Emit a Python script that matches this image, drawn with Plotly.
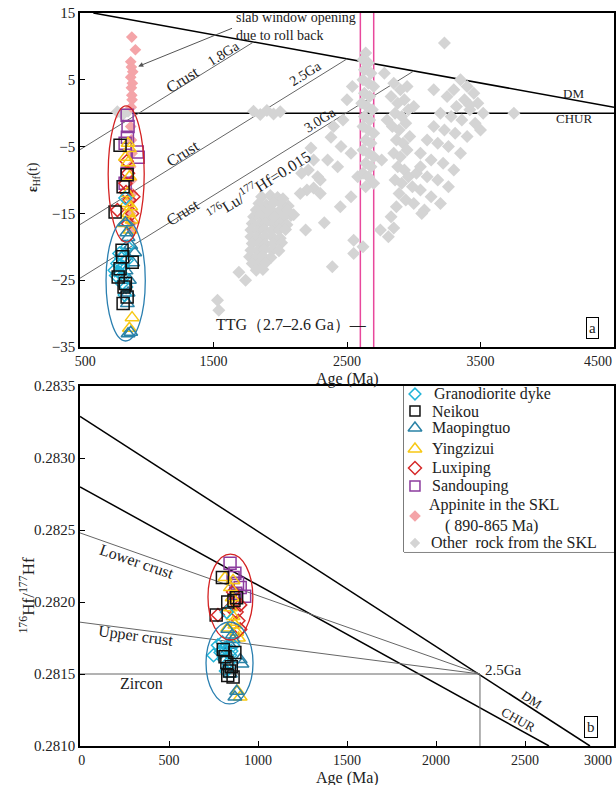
import plotly.graph_objects as go

# ---------------- DATA ----------------
# Top panel (a): Age (Ma) vs eHf(t)
grano_age_a = [840, 855, 810, 790, 770, 800, 820, 780, 830, 845, 835, 815, 795, 760, 805, 850]
grano_eps_a = [-12.7, -20, -21.7, -23.8, -24.3, -22.8, -23, -22.5, -24.5, -26, -27.2, -25.5, -21, -23.5, -24, -22]
neikou_age_a = [800, 853, 823, 763, 815, 891, 800, 786, 830, 853, 823, 840, 820]
neikou_eps_a = [-4.8, -9.2, -11, -14.8, -20.5, -22.3, -23.3, -24.5, -26, -27.5, -28.5, -25.5, -21.5]
maop_age_a = [840, 850, 860, 880, 910, 895, 845, 860, 855, 880, 860, 870, 835]
maop_eps_a = [-16.4, -17.9, -18.6, -19.8, -20.9, -22.4, -23.6, -26.9, -28.5, -32.8, -33, -25, -21]
ying_age_a = [860, 870, 840, 860, 870, 850, 865, 890, 830, 880, 890, 870, 855, 875]
ying_eps_a = [-4.5, -5.3, -6.6, -7.4, -9.5, -13.5, -15, -16, -16.5, -14, -30.6, -32.2, -12, -17.5]
luxi_age_a = [850, 860, 840, 780, 890, 900, 870, 860, 845]
luxi_eps_a = [-7.2, -9, -10.5, -14.5, -15, -12.5, -13, -16.5, -11.8]
sand_age_a = [853, 860, 855, 838, 929, 936, 853, 838]
sand_eps_a = [-0.3, -2.0, -3.6, -4.5, -5.8, -6.6, -9, -10.5]
appin_age_a = [888, 915, 880, 885, 895, 880, 892, 885, 888, 890, 884, 880, 885, 890, 880, 888, 892, 884, 878, 886, 890]
appin_eps_a = [11.4, 9.5, 7.7, 6.9, 6.2, 5.4, 4.5, 3.8, 2.7, 2.0, 0.9, -2, -4, -6, -8, -10, -12, -13, -15, -16.5, -17.5]
other_age = [780, 820, 860,
             1800, 1850, 1900, 1950, 2000,
             1860, 1925, 1980, 2020, 1840, 1895, 1950, 2010, 2060, 1820, 1870, 1930, 1990, 2050,
             1800, 1850, 1905, 1960, 2020, 2080, 1790, 1840, 1890, 1950, 2000, 2050,
             1780, 1830, 1880, 1935, 1990, 2040, 1780, 1830, 1885, 1940, 2000,
             1790, 1845, 1890, 1950, 2010, 1780, 1830, 1880, 1940, 1990,
             1770, 1820, 1870, 1930, 1790, 1840, 1890, 1820, 1870,
             1690, 1740, 1530, 1540, 2100, 2190, 2330,
             2230, 2250, 2210, 2280, 2250, 2300, 2380, 2455, 2355, 2430, 2530, 2530, 2580,
             2160, 2200, 2300, 2470, 2500, 2540, 2400, 2150,
             2640, 2620, 2660, 2630, 2680, 2620, 2660, 2700, 2630, 2670, 2610, 2650, 2690, 2630,
             2670, 2620, 2660, 2700, 2640, 2680, 2620, 2660, 2700, 2640, 2680, 2620, 2660, 2700, 2640,
             2850, 2900, 2950, 2830, 2880, 2930, 2860, 2910, 2960, 2840, 2890, 2940, 2870, 2920,
             2970, 2850, 2900, 2950, 2880, 2930, 2860, 2910, 2960, 2890, 2940, 2870,
             3350, 3400, 3300, 3450, 3250, 3380, 3480, 3320, 3420, 3520, 3200, 3280, 3360, 3460,
             3150, 3230, 3310, 3400, 3100, 3180, 3260, 3350, 3050, 3130, 3220, 3300, 3020, 3100,
             3180, 3260, 3050, 3130, 3200, 3000, 3080, 3230, 3750,
             2550, 2550, 2620, 2390, 2830, 2750, 2810, 2850, 2450,
             2780, 2800, 3000, 3050, 3150, 3420, 3500, 2760, 2990, 3060]
other_eps = [0.2, -0.2, 0.3,
             0.3, -0.2, 0.4, -0.1, 0.2,
             -12.5, -12.3, -12.6, -12.8, -13.5, -13.7, -13.4, -13.6, -13.9, -14.5, -14.6, -14.4, -14.7, -14.5,
             -15.5, -15.4, -15.7, -15.5, -15.6, -15.3, -16.5, -16.6, -16.4, -16.6, -16.5, -16.7,
             -17.5, -17.6, -17.4, -17.6, -17.5, -17.4, -18.5, -18.6, -18.4, -18.5, -18.7,
             -19.5, -19.4, -19.6, -19.5, -19.4, -20.5, -20.6, -20.4, -20.5, -20.6,
             -21.5, -21.6, -21.4, -21.6, -22.5, -22.6, -22.4, -23.5, -23.4,
             -23.8, -25, -28, -29.5, -15.2, -17.5, -16.4,
             -5.2, -7, -8.5, -9.5, -11.2, -12, -3.6, -5, -7, -8, -6, -12.5, -9.5,
             -9, -11.5, -10, -1, 2, 4, -2, -12,
             9, 8, 7.5, 6.5, 6, 5, 4.5, 4, 3, 2.5, 1.5, 1, 0.5, -0.5,
             -1, -2, -2.5, -3, -4, -4.5, -5.5, -6, -6.5, -7.5, -8, -9, -9.5, -10.5, -11,
             4.5, 3.5, 4, 2.5, 1.5, 2, 0, -0.5, 0.5, -2, -2.5, -1.5, -4, -4.5,
             -3.5, -6, -6.5, -5.5, -8, -8.5, -10, -10.5, -9.5, -12, -13, -14,
             5, 4, 3.5, 3, 2.5, 2, 1.5, 1, 0.5, 0, 0, -0.5, -1, -1.5,
             -2, -2.5, -3, -3.5, -4, -4.5, -5, -6, -6, -7, -7.5, -8.5, -9, -9.5,
             -10, -11, -11.5, -12.5, -13.5, -13.5, -14.5, 10.5, 0,
             -19, -21, -20, -23, -15.5, -17.5, -18.5, -17.2, -14,
             6, -1, 1, -8, 3.5, 1.2, -2.5, -7, -11, -15]

# reference curves, panel a
dm_a_age = [600, 4500]
dm_a_eps = [15, 0.9]
chur_a_age = [500, 4500]
chur_a_eps = [0, 0]
crust18_age = [500, 1800]
crust18_eps = [-5.46, 10.66]
crust25_age = [500, 2500]
crust25_eps = [-16.67, 8.13]
crust30_age = [500, 3000]
crust30_eps = [-24.7, 6.32]
ttg_ages = [2600, 2700]

# Bottom panel (b): Age (Ma) vs 176Hf/177Hf
grano_age_b = [825, 790, 815, 843, 830, 820, 750, 800, 835, 810, 850, 860, 800, 775]
grano_hf_b = [0.28193, 0.28165, 0.28168, 0.28163, 0.28154, 0.28152, 0.28163, 0.28167, 0.28158, 0.28160, 0.28166, 0.28170, 0.28172, 0.28170]
neikou_age_b = [800, 830, 765, 865, 880, 805, 870, 825, 830, 860, 815, 850, 840]
neikou_hf_b = [0.28217, 0.28200, 0.28191, 0.28201, 0.28203, 0.28167, 0.28165, 0.28158, 0.28149, 0.28148, 0.28162, 0.28155, 0.28152]
maop_age_b = [830, 855, 843, 900, 910, 880, 870, 860, 820, 845]
maop_hf_b = [0.28181, 0.28177, 0.28170, 0.28160, 0.28157, 0.28138, 0.28134, 0.28174, 0.28165, 0.28150]
ying_age_b = [815, 845, 855, 860, 860, 860, 830, 880, 890, 870, 885, 900, 845]
ying_hf_b = [0.28217, 0.28210, 0.28203, 0.28215, 0.28190, 0.28186, 0.28182, 0.28179, 0.28175, 0.28184, 0.28138, 0.28134, 0.28196]
luxi_age_b = [775, 880, 900, 860, 900, 870, 845, 890]
luxi_hf_b = [0.28191, 0.28193, 0.28198, 0.28207, 0.28181, 0.28200, 0.28196, 0.28187]
sand_age_b = [843, 870, 885, 900, 925, 860, 875]
sand_hf_b = [0.28227, 0.28220, 0.28213, 0.28210, 0.28204, 0.28217, 0.28206]

# reference curves, panel b
dm_b_age = [0, 2865]
dm_b_hf = [0.28329, 0.2810]
chur_b_age = [0, 2635]
chur_b_hf = [0.2828, 0.2810]
lower_age = [0, 2247]
lower_hf = [0.28248, 0.28150]
upper_age = [0, 2247]
upper_hf = [0.28186, 0.28150]
zircon_age = [0, 2247]
zircon_hf = [0.28150, 0.28150]
drop_age = [2247, 2247]
drop_hf = [0.28150, 0.2810]

# tick values / labels (the last label of each x axis is set flush with the frame)
NB = "\u00a0"
xa_ticks = [500, 1500, 2500, 3500, 4500]
xa_labels = [NB * 3 + "500", "1500", "2500", "3500", ""]
xa_last = "4500"
ya_ticks = [15, 5, -5, -15, -25, -35]
xb_ticks = [0, 500, 1000, 1500, 2000, 2500, 3000]
xb_labels = [NB + "0", "500", "1000", "1500", "2000", "2500", ""]
xb_last = "3000"
yb_ticks = [0.2810, 0.2815, 0.2820, 0.2825, 0.2830, 0.2835]

# legend entries
legend_names = ["Granodiorite dyke", "Neikou", "Maopingtuo", "Yingzizui", "Luxiping",
                "Sandouping", "Appinite in the SKL<br>" + NB * 4 + "( 890-865 Ma)",
                "Other" + NB + " rock from the SKL"]

# ---------------- STYLE ----------------
FONT = "Liberation Serif"
C_GRANO = "#22b4d8"
C_NEIKOU = "#111111"
C_MAOP = "#2a82a6"
C_YING = "#f7c814"
C_LUXI = "#d62a2a"
C_SAND = "#8c3c9e"
C_PINK = "#f4a4a8"
C_GRAY = "#d4d4d4"
LINE_GRAY = "#666666"

legend_symbols = ["diamond-open", "square-open", "triangle-up-open", "triangle-up-open",
                  "diamond-open", "square-open", "diamond", "diamond"]
legend_colors = [C_GRANO, C_NEIKOU, C_MAOP, C_YING, C_LUXI, C_SAND, C_PINK, C_GRAY]
legend_sizes = [9, 10, 12, 12, 10, 10, 9, 8]
legend_rows = [8, 25, 42, 63, 82, 100, 130, 157]   # row centres inside the legend box (px)

fig = go.Figure()

def line(x, y, xa, ya, color="black", width=1.5):
    fig.add_trace(go.Scatter(x=x, y=y, mode="lines", xaxis=xa, yaxis=ya,
                             line=dict(color=color, width=width),
                             showlegend=False, hoverinfo="skip"))

# panel a lines
line(dm_a_age, dm_a_eps, "x", "y")
line(chur_a_age, chur_a_eps, "x", "y")
line(crust18_age, crust18_eps, "x", "y", LINE_GRAY, 1)
line(crust25_age, crust25_eps, "x", "y", LINE_GRAY, 1)
line(crust30_age, crust30_eps, "x", "y", LINE_GRAY, 1)
for t in ttg_ages:
    line([t, t], [-35, 15], "x", "y", "#e8489c", 1.5)

# panel b lines
line(dm_b_age, dm_b_hf, "x2", "y2")
line(chur_b_age, chur_b_hf, "x2", "y2")
line(lower_age, lower_hf, "x2", "y2", LINE_GRAY, 1)
line(upper_age, upper_hf, "x2", "y2", LINE_GRAY, 1)
line(zircon_age, zircon_hf, "x2", "y2", LINE_GRAY, 1)
line(drop_age, drop_hf, "x2", "y2", LINE_GRAY, 1)

def pts(x, y, xa, ya, name, symbol, color, size, open_=True):
    if open_:
        marker = dict(symbol=symbol, size=size, color=color, line=dict(color=color, width=1.5))
    else:
        marker = dict(symbol=symbol, size=size, color=color, line=dict(width=0))
    fig.add_trace(go.Scatter(x=x, y=y, mode="markers", xaxis=xa, yaxis=ya, name=name,
                             marker=marker, showlegend=False))

# panel a points (draw order)
pts(other_age, other_eps, "x", "y", "Other rock from the SKL", "diamond", C_GRAY, 10, False)
pts(appin_age_a, appin_eps_a, "x", "y", "Appinite in the SKL (890-865 Ma)", "diamond", C_PINK, 9, False)
pts(sand_age_a, sand_eps_a, "x", "y", "Sandouping", "square-open", C_SAND, 12)
pts(luxi_age_a, luxi_eps_a, "x", "y", "Luxiping", "diamond-open", C_LUXI, 10)
pts(ying_age_a, ying_eps_a, "x", "y", "Yingzizui", "triangle-up-open", C_YING, 12)
pts(maop_age_a, maop_eps_a, "x", "y", "Maopingtuo", "triangle-up-open", C_MAOP, 12)
pts(grano_age_a, grano_eps_a, "x", "y", "Granodiorite dyke", "diamond-open", C_GRANO, 10)
pts(neikou_age_a, neikou_eps_a, "x", "y", "Neikou", "square-open", C_NEIKOU, 12)

# panel b points
pts(sand_age_b, sand_hf_b, "x2", "y2", "Sandouping", "square-open", C_SAND, 12)
pts(luxi_age_b, luxi_hf_b, "x2", "y2", "Luxiping", "diamond-open", C_LUXI, 10)
pts(ying_age_b, ying_hf_b, "x2", "y2", "Yingzizui", "triangle-up-open", C_YING, 12)
pts(maop_age_b, maop_hf_b, "x2", "y2", "Maopingtuo", "triangle-up-open", C_MAOP, 12)
pts(grano_age_b, grano_hf_b, "x2", "y2", "Granodiorite dyke", "diamond-open", C_GRANO, 10)
pts(neikou_age_b, neikou_hf_b, "x2", "y2", "Neikou", "square-open", C_NEIKOU, 12)

# legend symbols (drawn on a helper axis covering the legend box)
for i in range(len(legend_names)):
    op = legend_symbols[i].endswith("open")
    mk = dict(symbol=legend_symbols[i], size=legend_sizes[i], color=legend_colors[i],
              line=dict(color=legend_colors[i], width=1.5 if op else 0))
    fig.add_trace(go.Scatter(x=[11], y=[legend_rows[i]], mode="markers", xaxis="x3", yaxis="y3",
                             marker=mk, showlegend=False, hoverinfo="skip"))

# ellipses + legend box
shapes = [
    dict(type="circle", xref="x", yref="y", x0=711, x1=981, y0=-19.3, y1=1.1,
         line=dict(color="#d42222", width=1.3)),
    dict(type="circle", xref="x", yref="y", x0=695, x1=989, y0=-34.1, y1=-16.0,
         line=dict(color="#2a7fb0", width=1.3)),
    dict(type="circle", xref="x2", yref="y2", x0=719, x1=971, y0=0.281736, y1=0.282333,
         line=dict(color="#d42222", width=1.3)),
    dict(type="circle", xref="x2", yref="y2", x0=708, x1=972, y0=0.281292, y1=0.281861,
         line=dict(color="#2a7fb0", width=1.3)),
    dict(type="rect", xref="paper", yref="paper", x0=0.6067, x1=1, y0=0.2647, y1=0.4911,
         line=dict(color="black", width=1), fillcolor="white", layer="below"),
]

ann = []
def txt(x, y, text, xr="x", yr="y", size=15, angle=0, xanchor="center", **kw):
    ann.append(dict(x=x, y=y, xref=xr, yref=yr, text=text, showarrow=False,
                    textangle=angle, xanchor=xanchor, yanchor="middle",
                    font=dict(family=FONT, size=size, color="#222"), **kw))

# panel a texts
txt(1650, 13.0, "slab window opening<br>due to roll back", size=14, xanchor="left", align="left")
ann.append(dict(x=936, y=7.0, ax=1650, ay=12.8, xref="x", yref="y", axref="x", ayref="y",
                text="", showarrow=True, arrowhead=2, arrowsize=1, arrowwidth=1,
                arrowcolor="#555"))
txt(1267, 5.0, "Crust", size=16, angle=-32)
txt(1575, 9.0, "1.8Ga", size=14, angle=-32)
txt(1267, -6.0, "Crust", size=16, angle=-32)
txt(2190, 6.0, "2.5Ga", size=14, angle=-32)
txt(1267, -14.8, "Crust", size=16, angle=-32)
txt(1840, -10.8, "<sup>176</sup>Lu/<sup>177</sup>Hf=0.015", size=16, angle=-32)
txt(2305, -1.0, "3.0Ga", size=14, angle=-32)
txt(4199, 3.0, "DM", size=13)
txt(4199, -0.8, "CHUR", size=13)
txt(2665, -31.7, "TTG（2.7–2.6 Ga）—", size=16, xanchor="right")
txt(4342, -32.2, "a", size=15, bordercolor="black", borderwidth=1, borderpad=2, bgcolor="white")

# panel b texts
txt(320, 0.282278, "Lower crust", "x2", "y2", size=16, angle=19)
txt(315, 0.281764, "Upper crust", "x2", "y2", size=16, angle=7.5)
txt(343, 0.281437, "Zircon", "x2", "y2", size=16)
txt(2262, 0.281530, "2.5Ga", "x2", "y2", size=15, xanchor="left")
txt(2534, 0.281320, "DM", "x2", "y2", size=13, angle=33)
txt(2461, 0.281181, "CHUR", "x2", "y2", size=13, angle=29)
txt(2871, 0.281132, "b", "x2", "y2", size=15, bordercolor="black", borderwidth=1, borderpad=2, bgcolor="white")

# legend labels
legend_text_x = [28, 26, 26, 26, 26, 26, 23, 25]
for i, nm in enumerate(legend_names):
    ann.append(dict(x=legend_text_x[i], y=legend_rows[i], xref="x3", yref="y3", text=nm,
                    showarrow=False, xanchor="left", yanchor="middle", align="left",
                    font=dict(family=FONT, size=16, color="#222")))

# last x tick labels, flush right with the frame
ann.append(dict(x=1.0, y=0.5252, xref="paper", yref="paper", text=xa_last, showarrow=False,
                xanchor="right", yanchor="middle", font=dict(family=FONT, size=14, color="#222")))
ann.append(dict(x=1.0, y=-0.0191, xref="paper", yref="paper", text=xb_last, showarrow=False,
                xanchor="right", yanchor="middle", font=dict(family=FONT, size=14, color="#222")))

# axis titles
ann.append(dict(x=0.5, y=0.5007, xref="paper", yref="paper", text="Age (Ma)", showarrow=False,
                xanchor="center", yanchor="middle", font=dict(family=FONT, size=16, color="#222")))
ann.append(dict(x=0.5, y=-0.0430, xref="paper", yref="paper", text="Age (Ma)", showarrow=False,
                xanchor="center", yanchor="middle", font=dict(family=FONT, size=16, color="#222")))
ann.append(dict(x=-0.088, y=0.776, xref="paper", yref="paper", text="<b>ε</b><sub>Hf</sub>(t)",
                showarrow=False, textangle=-90, xanchor="center", yanchor="middle",
                font=dict(family=FONT, size=14, color="#222")))
ann.append(dict(x=-0.100, y=0.206, xref="paper", yref="paper",
                text="<sup>176</sup>Hf/<sup>177</sup>Hf", showarrow=False, textangle=-90,
                xanchor="center", yanchor="middle", font=dict(family=FONT, size=17, color="#222")))

axis_common = dict(showline=True, linecolor="black", linewidth=1.5, mirror=True,
                   ticks="inside", ticklen=5, tickcolor="black", tickwidth=1.2,
                   showgrid=False, zeroline=False, ticklabeloverflow="allow",
                   automargin=False)
yfont = dict(family=FONT, size=15, color="#222")
xfont = dict(family=FONT, size=14, color="#222")

fig.update_layout(
    width=616, height=785,
    margin=dict(l=80, r=2, t=13, b=39, autoexpand=False),
    paper_bgcolor="white", plot_bgcolor="white",
    xaxis=dict(domain=[0, 1], anchor="y", range=[500, 4500],
               tickvals=xa_ticks, ticktext=xa_labels, tickfont=xfont, **axis_common),
    yaxis=dict(domain=[0.5443, 1], anchor="x", range=[-35, 15],
               tickvals=ya_ticks, tickfont=yfont, **axis_common),
    xaxis2=dict(domain=[0, 1], anchor="y2", range=[0, 3000],
                tickvals=xb_ticks, ticktext=xb_labels, tickfont=xfont, **axis_common),
    yaxis2=dict(domain=[0, 0.4911], anchor="x2", range=[0.2810, 0.2835],
                tickvals=yb_ticks, tickformat=".4f", tickfont=yfont, **axis_common),
    xaxis3=dict(domain=[0.6067, 1], anchor="y3", range=[0, 210], visible=False, fixedrange=True),
    yaxis3=dict(domain=[0.2647, 0.4911], anchor="x3", range=[166, 0], visible=False, fixedrange=True),
    shapes=shapes,
    annotations=ann,
    showlegend=False,
)

fig.write_html("out.html", config={"displayModeBar": False},
               post_script="document.body.style.margin='0';")
